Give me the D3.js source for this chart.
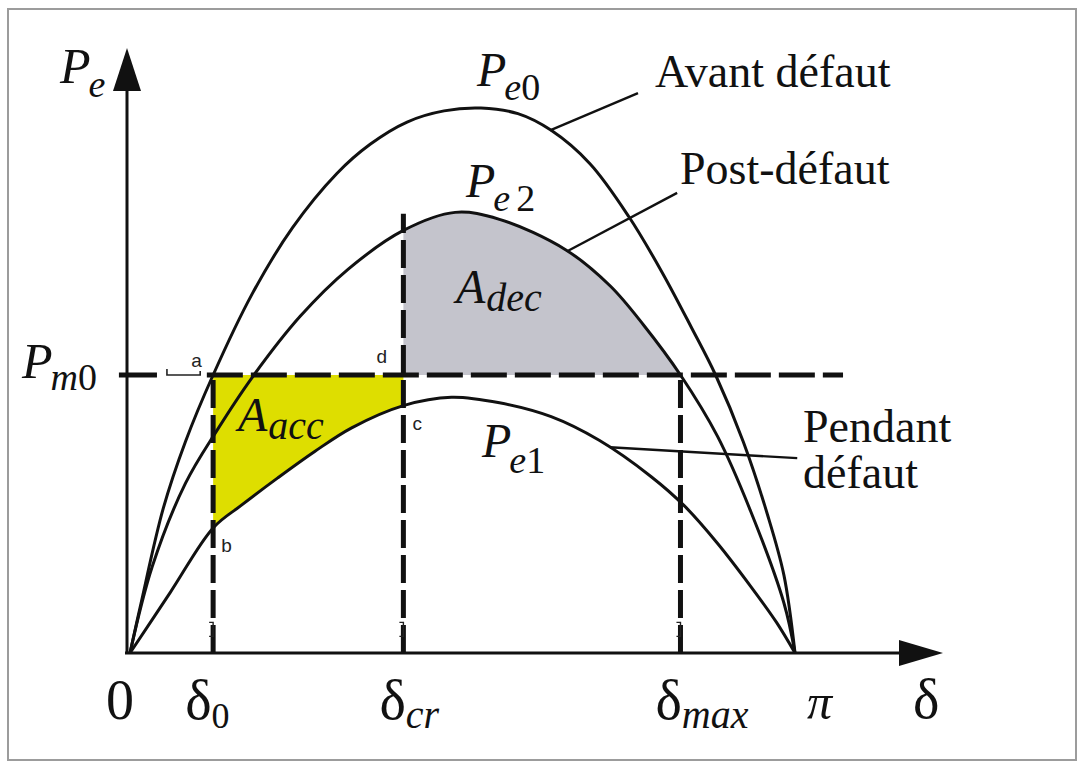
<!DOCTYPE html>
<html>
<head>
<meta charset="utf-8">
<script src="https://cdn.jsdelivr.net/npm/d3@7"></script>
<style>
  body { margin: 0; background: #fff; }
  svg { display: block; }
  .serif { font-family: "Liberation Serif", "Times New Roman", serif; fill: #111; }
  .sans { font-family: "Liberation Sans", Arial, sans-serif; fill: #222; }
</style>
</head>
<body>
<svg id="chart" width="1087" height="762"></svg>
<script>
// Power-angle curves: rotor angle δ in degrees, electrical power in units of Pm0
const pe0Delta = [0, 3, 9, 15, 22.5, 33, 44, 56, 65, 75, 85, 95, 105, 114, 124.5, 135, 144, 152, 158.5, 166, 172.5, 177, 180];
const pe0Power = [0, 0.18, 0.52, 0.76, 1.0, 1.29, 1.53, 1.725, 1.83, 1.91, 1.95, 1.96, 1.94, 1.88, 1.76, 1.57, 1.37, 1.17, 1.0, 0.76, 0.50, 0.28, 0];

const pe2Delta = [0, 6, 15, 23.5, 33, 46, 59, 74, 88, 100, 118, 130, 139, 149, 159, 168, 177, 180];
const pe2Power = [0, 0.31, 0.61, 0.80, 0.99, 1.21, 1.38, 1.52, 1.585, 1.56, 1.45, 1.32, 1.18, 1.0, 0.78, 0.51, 0.18, 0];

const pe1Delta = [0, 11, 22.5, 30, 40, 50, 60, 74, 87, 100, 114, 127, 141, 150, 159, 168, 175, 180];
const pe1Power = [0, 0.22, 0.45, 0.53, 0.63, 0.725, 0.81, 0.89, 0.92, 0.90, 0.85, 0.765, 0.635, 0.53, 0.395, 0.24, 0.11, 0];

// Mechanical power and the characteristic angles
const pm0 = 1.0;
const delta0 = 22.5;
const deltaCr = 74;
const deltaMax = 149;
const deltaCrTop = 1.58;

// Horizontal axis marks
const xTickValues = [0, delta0, deltaCr, deltaMax, 180];
const xTickMain = ["0", "δ", "δ", "δ", "π"];
const xTickSub = ["", "0", "cr", "max", ""];

// Leader lines from curve to its caption: [δ start, P start, δ end, P end]
const leaderAvant = [113.7, 1.88, 137.5, 2.014];
const leaderPost = [118.6, 1.447, 148.1, 1.655];
const leaderPendant = [129.9, 0.74, 180.6, 0.701];

const svg = d3.select("#chart");
const W = 1087, H = 762;

const x = d3.scaleLinear().domain([0, 180]).range([130, 795]);
const y = d3.scaleLinear().domain([0, 1]).range([653, 375]);

const zip = (a, b) => a.map((d, i) => [d, b[i]]);
const pe0 = zip(pe0Delta, pe0Power);
const pe1 = zip(pe1Delta, pe1Power);
const pe2 = zip(pe2Delta, pe2Power);

const curve = d3.curveCatmullRom.alpha(0.5);
const line = d3.line().x(d => x(d[0])).y(d => y(d[1])).curve(curve);
const band = d3.area().x(d => x(d[0])).y0(y(pm0)).y1(d => y(d[1])).curve(curve);

// Frame
svg.append("rect")
  .attr("x", 8).attr("y", 9).attr("width", 1068).attr("height", 751)
  .attr("fill", "none").attr("stroke", "#9c9c9c").attr("stroke-width", 2);

// Clip regions for the accelerating and decelerating areas
const defs = svg.append("defs");
defs.append("clipPath").attr("id", "clipAcc").append("rect")
  .attr("x", x(delta0)).attr("width", x(deltaCr) - x(delta0))
  .attr("y", 0).attr("height", H);
defs.append("clipPath").attr("id", "clipDec").append("rect")
  .attr("x", x(deltaCr)).attr("width", x(deltaMax) - x(deltaCr))
  .attr("y", 0).attr("height", H);

svg.append("path").datum(pe1)
  .attr("d", band).attr("fill", "#dede00").attr("clip-path", "url(#clipAcc)");
svg.append("path").datum(pe2)
  .attr("d", band).attr("fill", "#c4c4cc").attr("clip-path", "url(#clipDec)");

// Pm0 level: short lead dash, thin bracket at "a", then the long dashed run
const thick = 5;
svg.append("line")
  .attr("x1", x(-3)).attr("x2", x(7.3))
  .attr("y1", y(pm0)).attr("y2", y(pm0))
  .attr("stroke", "#111").attr("stroke-width", thick);
svg.append("path")
  .attr("d", `M${x(10)},${y(pm0) - 6} v6 h${x(19) - x(10)} v-4`)
  .attr("fill", "none").attr("stroke", "#222").attr("stroke-width", 1.6);
svg.append("line")
  .attr("x1", x(20.8)).attr("x2", x(193))
  .attr("y1", y(pm0)).attr("y2", y(pm0))
  .attr("stroke", "#111").attr("stroke-width", thick)
  .attr("stroke-dasharray", "36,8");

// Vertical dashed guides at δ0, δcr and δmax
const guides = [[delta0, pm0], [deltaCr, deltaCrTop], [deltaMax, pm0]];
guides.forEach(([d, top]) => {
  svg.append("line")
    .attr("x1", x(d)).attr("x2", x(d))
    .attr("y1", y(0)).attr("y2", y(top))
    .attr("stroke", "#111").attr("stroke-width", thick)
    .attr("stroke-dasharray", "28,7");
  svg.append("path")
    .attr("d", `M${x(d) - 4},${y(0.11)} h4 v14 h-4`)
    .attr("fill", "none").attr("stroke", "#222").attr("stroke-width", 1.4);
});

// Power-angle curves
[pe0, pe2, pe1].forEach(c => {
  svg.append("path").datum(c)
    .attr("d", line).attr("fill", "none")
    .attr("stroke", "#111").attr("stroke-width", 3);
});

// Leader lines
[leaderAvant, leaderPost, leaderPendant].forEach(l => {
  svg.append("line")
    .attr("x1", x(l[0])).attr("y1", y(l[1]))
    .attr("x2", x(l[2])).attr("y2", y(l[3]))
    .attr("stroke", "#111").attr("stroke-width", 2.4);
});

// Axes with arrowheads
const axisX0 = x(0) - 5, axisTip = 943;
svg.append("line")
  .attr("x1", axisX0).attr("x2", axisTip - 40)
  .attr("y1", y(0)).attr("y2", y(0))
  .attr("stroke", "#111").attr("stroke-width", 3);
svg.append("path")
  .attr("d", `M${axisTip},${y(0)} L${axisTip - 44},${y(0) - 13} L${axisTip - 44},${y(0) + 13} Z`)
  .attr("fill", "#111");
const yAxisX = 127, yTip = 48;
svg.append("line")
  .attr("x1", yAxisX).attr("x2", yAxisX)
  .attr("y1", y(0)).attr("y2", yTip + 40)
  .attr("stroke", "#111").attr("stroke-width", 3);
svg.append("path")
  .attr("d", `M${yAxisX},${yTip} L${yAxisX - 14},${yTip + 43} L${yAxisX + 14},${yTip + 43} Z`)
  .attr("fill", "#111");

// Horizontal axis labels
const tickOffset = [-24, -28, -24, -25, 12];
xTickValues.forEach((v, i) => {
  const t = svg.append("text").attr("class", "serif")
    .attr("x", x(v) + tickOffset[i]).attr("y", 719)
    .attr("font-size", i === 4 ? 50 : 56);
  t.append("tspan").text(xTickMain[i])
    .attr("font-style", i === 4 ? "italic" : "normal");
  if (xTickSub[i]) {
    t.append("tspan").text(xTickSub[i])
      .attr("font-size", xTickSub[i] === "0" ? 36 : 40).attr("dy", 9)
      .attr("font-style", xTickSub[i] === "0" ? "normal" : "italic");
  }
});
svg.append("text").attr("class", "serif")
  .attr("x", 913).attr("y", 718).attr("font-size", 56).text("δ");

// Symbol labels: big italic letter with subscript
function symbol(px, py, main, sub, size, subSize, dy, subDx) {
  const t = svg.append("text").attr("class", "serif")
    .attr("x", px).attr("y", py).attr("font-size", size);
  t.append("tspan").text(main).attr("font-style", "italic");
  sub.forEach((s, k) => {
    const ts = t.append("tspan").text(s[0])
      .attr("font-size", subSize).attr("font-style", s[1] ? "italic" : "normal");
    if (k === 0) ts.attr("dy", dy).attr("dx", subDx);
    else if (s[2]) ts.attr("dx", s[2]);
  });
}
symbol(60, 83, "P", [["e", true]], 50, 38, 14, -2);
symbol(22, 378, "P", [["m", true], ["0", false]], 50, 38, 12, -2);
symbol(477, 86, "P", [["e", true], ["0", false]], 48, 38, 14, -2);
symbol(466, 197, "P", [["e", true], ["2", false, 6]], 48, 38, 14, -2);
symbol(482, 457, "P", [["e", true], ["1", false]], 48, 38, 16, -2);
symbol(238, 431, "A", [["acc", true]], 48, 40, 8, 1);
symbol(456, 303, "A", [["dec", true]], 48, 40, 8, 1);

// Curve captions
const captions = [
  ["Avant défaut", 655, 87],
  ["Post-défaut", 680, 184],
  ["Pendant", 803, 442],
  ["défaut", 803, 488]
];
captions.forEach(([s, px, py]) => {
  svg.append("text").attr("class", "serif")
    .attr("x", px).attr("y", py).attr("font-size", 46).text(s);
});

// Point markers a, b, c, d
const points = [
  ["a", delta0, pm0, -22, -8],
  ["b", delta0, 0.45, 8, 24],
  ["c", deltaCr, 0.89, 9, 24],
  ["d", deltaCr, pm0, -27, -12]
];
points.forEach(([s, d, p, dx, dy]) => {
  svg.append("text").attr("class", "sans")
    .attr("x", x(d) + dx).attr("y", y(p) + dy)
    .attr("font-size", 19).text(s);
});
</script>
</body>
</html>
